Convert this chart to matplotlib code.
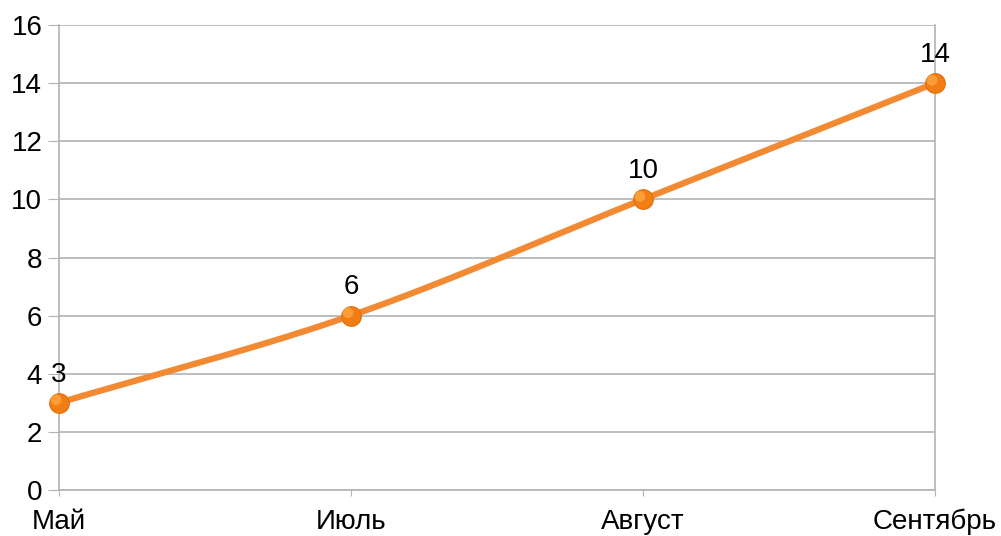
import numpy as np
import matplotlib
matplotlib.use("Agg")
import matplotlib.pyplot as plt

categories = ["Май", "Июль", "Август", "Сентябрь"]
values = [3, 6, 10, 14]
yticks = [0, 2, 4, 6, 8, 10, 12, 14, 16]

plt.rcParams['font.family'] = ['Liberation Sans', 'DejaVu Sans']

fig = plt.figure(figsize=(10.01, 5.36), dpi=100)
ax = fig.add_axes([59/1001, 1-490/536, (935-59)/1001, (490-25)/536])

x = np.arange(len(categories), dtype=float)
y = np.array(values, dtype=float)

# Catmull-Rom smoothing for the rendered curve
def catmull(xp, yp, n=50):
    px = np.concatenate([[2*xp[0]-xp[1]], xp, [2*xp[-1]-xp[-2]]])
    py = np.concatenate([[2*yp[0]-yp[1]], yp, [2*yp[-1]-yp[-2]]])
    xs, ys = [], []
    for i in range(1, len(px)-2):
        t = np.linspace(0, 1, n)
        for arr, out in ((px, xs), (py, ys)):
            p0, p1, p2, p3 = arr[i-1], arr[i], arr[i+1], arr[i+2]
            out.append(0.5*((2*p1) + (-p0+p2)*t + (2*p0-5*p1+4*p2-p3)*t**2 + (-p0+3*p1-3*p2+p3)*t**3))
    return np.concatenate(xs), np.concatenate(ys)

sx, sy = catmull(x, y)
ax.plot(sx, sy, color='#f28a33', lw=4.5, solid_capstyle='round', zorder=3)
ax.scatter(x, y, s=200, color='#f27d14', edgecolors='#e0700a', linewidths=0.8, zorder=4)
ax.scatter(x - 0.01, y + 0.1, s=60, color='#ffa640', edgecolors='none', alpha=0.8, zorder=5)

for xi, yi, v in zip(x, y, values):
    ax.annotate(str(v), (xi, yi), xytext=(0, 11), textcoords='offset points',
                ha='center', va='bottom', fontsize=20, color='black', zorder=6)

ax.set_xlim(0, len(categories)-1)
ax.set_ylim(0, 16)
ax.set_yticks(yticks)
ax.set_xticks(x)
ax.set_xticklabels(categories)
ax.grid(axis='y', color='#b3b3b3', lw=1.2)
ax.set_axisbelow(True)
ax.spines['top'].set_visible(False)
for s in ['left', 'right', 'bottom']:
    ax.spines[s].set_color('#b3b3b3')
    ax.spines[s].set_linewidth(1.2)
ax.tick_params(axis='y', length=8, color='#b3b3b3', labelsize=20, pad=4)
ax.tick_params(axis='x', length=4.5, color='#b3b3b3', labelsize=20, pad=9)
for c in ax.collections + ax.lines + ax.texts:
    c.set_clip_on(False)

fig.savefig("out.png", dpi=100, facecolor='white')
